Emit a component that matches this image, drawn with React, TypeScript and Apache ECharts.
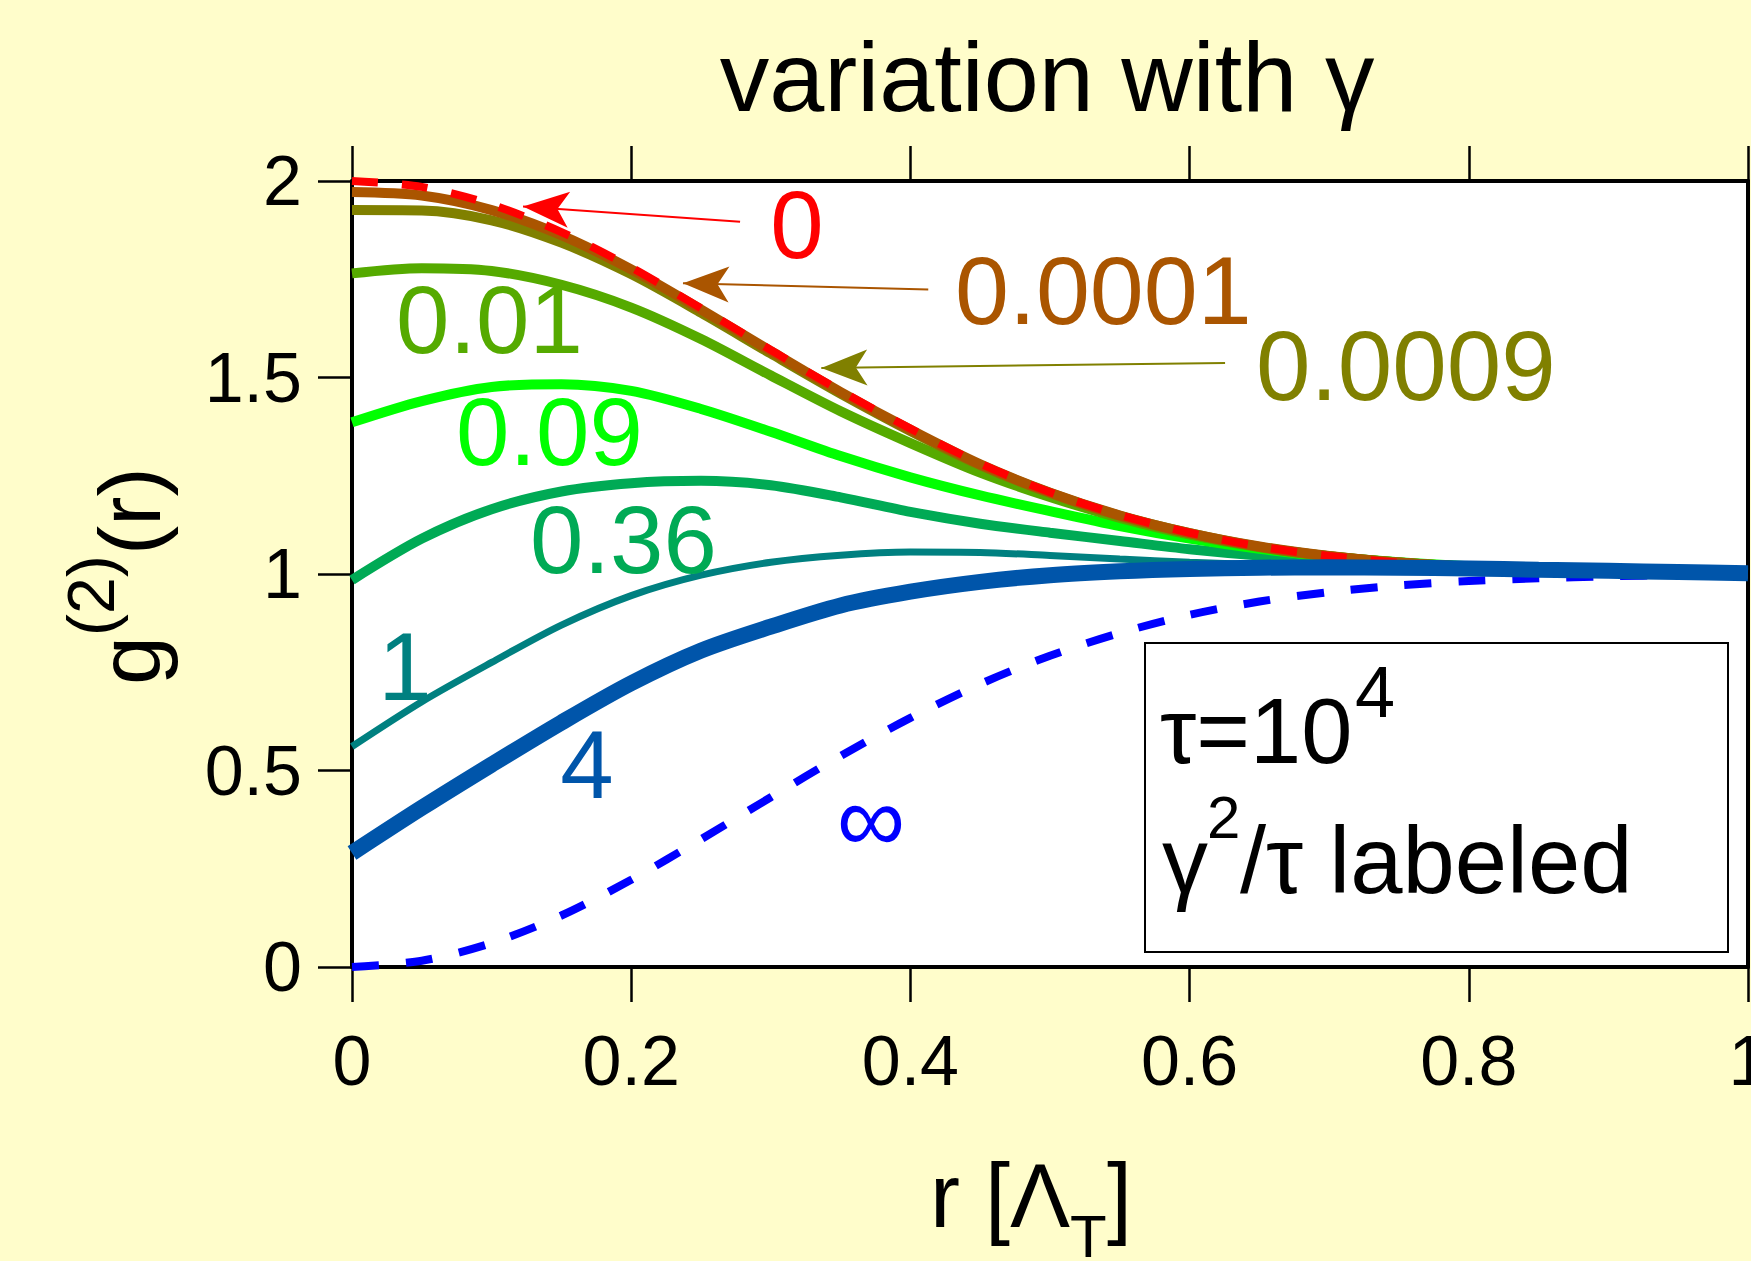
import React, { useEffect, useRef } from "react";
import * as echarts from "echarts";

// r values (units of Λ_T)
const rValues = [0, 0.05, 0.1, 0.15, 0.2, 0.25, 0.3, 0.35, 0.4, 0.45, 0.5, 0.55, 0.6, 0.65, 0.7, 0.75, 0.8, 0.85, 0.9, 0.95, 1.0];

// g2(r) curves, labeled by gamma^2/tau
const g_0 = [2.0, 1.985, 1.94, 1.87, 1.78, 1.676, 1.57, 1.466, 1.37, 1.281, 1.208, 1.15, 1.105, 1.07, 1.046, 1.029, 1.018, 1.011, 1.006, 1.003, 1.002];
const g_00001 = [1.972, 1.963, 1.926, 1.862, 1.775, 1.673, 1.567, 1.463, 1.367, 1.279, 1.207, 1.149, 1.104, 1.07, 1.046, 1.029, 1.018, 1.011, 1.006, 1.003, 1.002];
const g_00009 = [1.926, 1.925, 1.9, 1.843, 1.763, 1.665, 1.561, 1.459, 1.364, 1.277, 1.206, 1.148, 1.104, 1.069, 1.045, 1.029, 1.018, 1.011, 1.006, 1.003, 1.002];
const g_001 = [1.765, 1.778, 1.771, 1.736, 1.678, 1.598, 1.505, 1.414, 1.333, 1.258, 1.196, 1.143, 1.1, 1.068, 1.045, 1.029, 1.018, 1.011, 1.006, 1.003, 1.002];
const g_009 = [1.386, 1.44, 1.476, 1.483, 1.466, 1.42, 1.362, 1.3, 1.246, 1.2, 1.16, 1.122, 1.09, 1.064, 1.044, 1.03, 1.02, 1.013, 1.008, 1.005, 1.003];
const g_036 = [0.985, 1.09, 1.165, 1.21, 1.231, 1.237, 1.226, 1.195, 1.158, 1.128, 1.105, 1.084, 1.063, 1.047, 1.036, 1.027, 1.019, 1.013, 1.008, 1.005, 1.003];
const g_1 = [0.561, 0.675, 0.775, 0.87, 0.945, 0.997, 1.03, 1.048, 1.056, 1.055, 1.047, 1.038, 1.03, 1.024, 1.018, 1.014, 1.01, 1.007, 1.005, 1.003, 1.002];
const g_4 = [0.29, 0.405, 0.515, 0.622, 0.722, 0.805, 0.866, 0.92, 0.955, 0.98, 0.997, 1.007, 1.013, 1.016, 1.017, 1.016, 1.014, 1.011, 1.008, 1.005, 1.002];
const g_inf = [0.0, 0.016, 0.061, 0.131, 0.222, 0.325, 0.432, 0.537, 0.634, 0.72, 0.792, 0.85, 0.896, 0.93, 0.954, 0.971, 0.982, 0.989, 0.994, 0.997, 0.998];

// annotation arrows [tail, head] in data coords
const arrow0 = [[0.278, 1.896], [0.1225, 1.935]];
const arrow00001 = [[0.4128, 1.724], [0.2371, 1.7396]];
const arrow00009 = [[0.6254, 1.537], [0.3362, 1.5242]];

const xTicks = { min: 0, max: 1, interval: 0.2 };
const yTicks = { min: 0, max: 2, interval: 0.5 };

const FONT = "'Liberation Sans', Arial, Helvetica, sans-serif";
const C = {
  red: "#FF0000",
  brown: "#AA5500",
  olive: "#808000",
  green: "#55AA00",
  lime: "#00FF00",
  sea: "#00AA55",
  teal: "#008080",
  blue4: "#0055AA",
  blue: "#0000FF",
};

function mkLine(name: string, ys: number[], color: string, width: number, dash?: number[], extra?: any) {
  return {
    type: "line",
    name,
    data: rValues.map((x, i) => [x, ys[i]]),
    showSymbol: false,
    symbol: "none",
    smooth: 0.3,
    silent: true,
    xAxisIndex: 0,
    yAxisIndex: 0,
    lineStyle: { color, width, type: dash ? dash : "solid", cap: "butt" },
    ...(extra || {}),
  };
}

function mkArrow(a: number[][], color: string) {
  return {
    silent: true,
    animation: false,
    symbol: ["none", "arrow"],
    symbolSize: [27, 46],
    label: { show: false },
    emphasis: { disabled: true },
    lineStyle: { color, width: 2, type: "solid" },
    data: [[{ coord: a[0] }, { coord: a[1] }]],
  };
}

function txt(text: string, x: number, y: number, size: number, color: string, align = "left", z = 50) {
  return {
    type: "text",
    x,
    y,
    z,
    silent: true,
    style: {
      text,
      fill: color,
      fontSize: size,
      fontFamily: FONT,
      align,
      textAlign: align,
      verticalAlign: "middle",
      textVerticalAlign: "middle",
    },
  };
}

const axisLineStyle = { show: true, onZero: false, lineStyle: { color: "#000", width: 4 } };
const tickStyle = { show: true, inside: false, length: 35, lineStyle: { color: "#000", width: 2.5 } };

export default function App() {
  const ref = useRef<HTMLDivElement>(null);
  useEffect(() => {
    const chart = echarts.init(ref.current as HTMLDivElement, null, { renderer: "svg" });
    const option: any = {
      animation: false,
      backgroundColor: "#FFFDCB",
      textStyle: { fontFamily: FONT },
      grid: {
        left: 352, right: 3, top: 181, bottom: 294,
        containLabel: false, outerBoundsMode: "none",
        show: true, backgroundColor: "#FFFFFF", borderWidth: 0,
      },
      xAxis: [
        {
          type: "value", ...xTicks, position: "bottom",
          axisLine: axisLineStyle, axisTick: tickStyle,
          axisLabel: { fontSize: 70, color: "#000", margin: 59, fontFamily: FONT },
          splitLine: { show: false },
        },
        {
          type: "value", ...xTicks, position: "top",
          axisLine: axisLineStyle, axisTick: tickStyle,
          axisLabel: { show: false }, splitLine: { show: false },
        },
      ],
      yAxis: [
        {
          type: "value", ...yTicks, position: "left",
          axisLine: axisLineStyle, axisTick: { ...tickStyle, length: 34 },
          axisLabel: { fontSize: 70, color: "#000", margin: 50, fontFamily: FONT },
          splitLine: { show: false },
        },
        {
          type: "value", ...yTicks, position: "right",
          axisLine: axisLineStyle, axisTick: { show: false },
          axisLabel: { show: false }, splitLine: { show: false },
        },
      ],
      series: [
        mkLine("∞", g_inf, C.blue, 8, [27, 27]),
        mkLine("1", g_1, C.teal, 7),
        mkLine("0.36", g_036, C.sea, 10),
        mkLine("0.09", g_009, C.lime, 10),
        mkLine("0.01", g_001, C.green, 10),
        mkLine("0.0009", g_00009, C.olive, 10, undefined, { markLine: mkArrow(arrow00009, C.olive) }),
        mkLine("0.0001", g_00001, C.brown, 10, undefined, { markLine: mkArrow(arrow00001, C.brown) }),
        mkLine("0", g_0, C.red, 8, [26, 24], { markLine: mkArrow(arrow0, C.red) }),
        mkLine("4", g_4, C.blue4, 16),
      ],
      graphic: [
        // title
        txt("variation with γ", 1047, 76, 99, "#000", "center"),
        // curve labels
        txt("0", 797, 224.7, 96, C.red, "center"),
        txt("0.0001", 955, 290.7, 97, C.brown),
        txt("0.0009", 1256, 365.7, 98, C.olive),
        txt("0.01", 396, 319.7, 96, C.green),
        txt("0.09", 456, 431.7, 96, C.lime),
        txt("0.36", 530, 539.7, 96, C.sea),
        txt("1", 405, 666.7, 96, C.teal, "center"),
        txt("4", 587, 764.7, 96, C.blue4, "center"),
        txt("∞", 871, 818, 96, C.blue, "center"),
        // info box
        {
          type: "rect", z: 40, silent: true,
          shape: { x: 1145, y: 643, width: 583, height: 309 },
          style: { fill: "#FFFFFF", stroke: "#000", lineWidth: 2 },
        },
        txt("τ=10", 1160, 730.8, 92, "#000"),
        txt("4", 1355, 692, 72, "#000"),
        txt("γ", 1162, 860.8, 92, "#000"),
        txt("2", 1207, 817, 60, "#000"),
        txt("/τ labeled", 1240, 860.8, 94, "#000"),
        // x axis name
        txt("r [Λ", 930, 1195.8, 90, "#000"),
        txt("T", 1070, 1236, 60, "#000"),
        txt("]", 1107, 1195.8, 90, "#000"),
        // y axis name (rotated)
        {
          type: "group",
          x: 0,
          y: 575,
          rotation: Math.PI / 2,
          z: 50,
          children: [
            txt("g", -110, 129.5, 88, "#000"),
            txt("(2)", -61, 91, 66, "#000"),
            txt("(r)", 20, 129.5, 88, "#000"),
          ],
        },
      ],
    };
    chart.setOption(option);
    return () => chart.dispose();
  }, []);
  return <div ref={ref} style={{ position: "absolute", left: 0, top: 0, width: 1751, height: 1261 }} />;
}
